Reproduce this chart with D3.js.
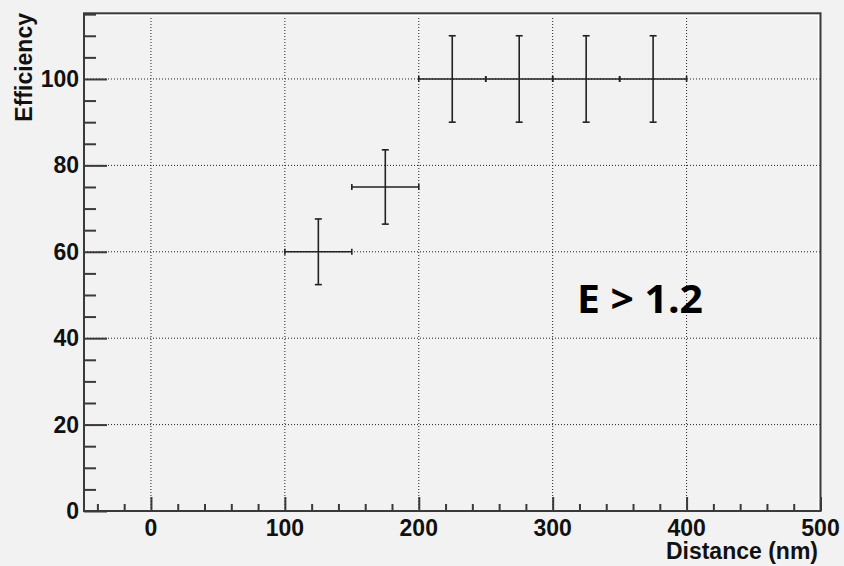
<!DOCTYPE html>
<html><head><meta charset="utf-8">
<script src="https://cdn.jsdelivr.net/npm/d3@7"></script>
<style>
html,body{margin:0;padding:0;background:#f2f2f2;}
svg{display:block;}
</style></head>
<body>
<script>
// Data
const xCenters = [125, 175, 225, 275, 325, 375];
const xErrors  = [25, 25, 25, 25, 25, 25];
const yValues  = [60, 75, 100, 100, 100, 100];
const yErrors  = [7.6, 8.6, 10, 10, 10, 10];
const xTicks = [0, 100, 200, 300, 400, 500];
const yTicks = [0, 20, 40, 60, 80, 100];
const xLabel = "Distance (nm)";
const yLabel = "Efficiency";
const annotation = "E > 1.2";

const W = 844, H = 566;
const svg = d3.select("body").append("svg").attr("width", W).attr("height", H);
svg.append("rect").attr("width", W).attr("height", H).attr("fill", "#f2f2f2");

const x = d3.scaleLinear().domain([-50, 500]).range([84, 820.5]);
const y = d3.scaleLinear().domain([0, 115.2]).range([511, 13.3]);
const axisCol = "#3a3a3a";
const font = "Liberation Sans, Arial, Helvetica, sans-serif";

// grid
const g = svg.append("g");
g.selectAll(".gx").data(xTicks.filter(d => d < 500)).enter().append("line")
  .attr("x1", d => x(d)).attr("x2", d => x(d)).attr("y1", y(0)).attr("y2", y(115.2))
  .attr("stroke", "#222").attr("stroke-width", 1).attr("stroke-dasharray", "1,2");
g.selectAll(".gy").data(yTicks.filter(d => d > 0)).enter().append("line")
  .attr("x1", x(-50)).attr("x2", x(500)).attr("y1", d => y(d)).attr("y2", d => y(d))
  .attr("stroke", "#222").attr("stroke-width", 1).attr("stroke-dasharray", "1,2");

// frame highlight
svg.append("line").attr("x1", x(-50)).attr("x2", x(500)-2).attr("y1", y(115.2)+2).attr("y2", y(115.2)+2)
  .attr("stroke", "#fff").attr("stroke-width", 1.5);
svg.append("line").attr("x1", x(500)-2).attr("x2", x(500)-2).attr("y1", y(115.2)+2).attr("y2", y(0))
  .attr("stroke", "#fff").attr("stroke-width", 1.5);
// frame
svg.append("rect").attr("x", x(-50)).attr("y", y(115.2)).attr("width", x(500)-x(-50)).attr("height", y(0)-y(115.2))
  .attr("fill", "none").attr("stroke", axisCol).attr("stroke-width", 2);

// x axis ticks
const xAxis = d3.axisBottom(x).tickValues(d3.range(-40, 501, 20)).tickSize(0).tickFormat("");
const xa = svg.append("g").attr("transform", `translate(0,${y(0)})`).call(xAxis);
xa.select(".domain").remove();
xa.selectAll(".tick line").remove();
xa.selectAll(".tick").append("line")
  .attr("y1", 0).attr("y2", d => xTicks.includes(d) ? -14 : -7)
  .attr("stroke", axisCol).attr("stroke-width", 2);
svg.selectAll(".xl").data(xTicks).enter().append("text")
  .attr("x", d => x(d)).attr("y", 535.5).attr("text-anchor", "middle")
  .attr("font-family", font).attr("font-weight", "bold")
  .attr("font-size", 23).attr("fill", "#111").text(d => d);

// y axis ticks
const yAxis = d3.axisLeft(y).tickValues(d3.range(0, 116, 5)).tickSize(0).tickFormat("");
const ya = svg.append("g").attr("transform", `translate(${x(-50)},0)`).call(yAxis);
ya.select(".domain").remove();
ya.selectAll(".tick line").remove();
ya.selectAll(".tick").append("line")
  .attr("x1", 0).attr("x2", d => yTicks.includes(d) ? 23 : 12)
  .attr("stroke", axisCol).attr("stroke-width", 2);
svg.selectAll(".yl").data(yTicks).enter().append("text")
  .attr("x", 79).attr("y", d => y(d) + 8).attr("text-anchor", "end")
  .attr("font-family", font).attr("font-weight", "bold")
  .attr("font-size", 23).attr("fill", "#111").text(d => d);

// axis titles
svg.append("text").attr("transform", `translate(32,13) rotate(-90)`).attr("text-anchor", "end")
  .attr("font-family", font).attr("font-weight", "bold")
  .attr("font-size", 23).attr("fill", "#111").text(yLabel);
svg.append("text").attr("x", 818).attr("y", 559).attr("text-anchor", "end")
  .attr("font-family", font).attr("font-weight", "bold")
  .attr("font-size", 23).attr("fill", "#111").text(xLabel);

// data points with error bars
const pts = xCenters.map((c, i) => ({x: c, ex: xErrors[i], y: yValues[i], ey: yErrors[i]}));
const pg = svg.append("g").attr("stroke", "#222").attr("stroke-width", 1.6);
const p = pg.selectAll(".pt").data(pts).enter().append("g");
p.append("line").attr("x1", d => x(d.x - d.ex)).attr("x2", d => x(d.x + d.ex))
  .attr("y1", d => y(d.y)).attr("y2", d => y(d.y));
p.append("line").attr("x1", d => x(d.x)).attr("x2", d => x(d.x))
  .attr("y1", d => y(d.y - d.ey)).attr("y2", d => y(d.y + d.ey));
// caps
p.append("line").attr("x1", d => x(d.x) - 3.5).attr("x2", d => x(d.x) + 3.5)
  .attr("y1", d => y(d.y + d.ey)).attr("y2", d => y(d.y + d.ey));
p.append("line").attr("x1", d => x(d.x) - 3.5).attr("x2", d => x(d.x) + 3.5)
  .attr("y1", d => y(d.y - d.ey)).attr("y2", d => y(d.y - d.ey));
p.append("line").attr("x1", d => x(d.x - d.ex)).attr("x2", d => x(d.x - d.ex))
  .attr("y1", d => y(d.y) - 3).attr("y2", d => y(d.y) + 3);
p.append("line").attr("x1", d => x(d.x + d.ex)).attr("x2", d => x(d.x + d.ex))
  .attr("y1", d => y(d.y) - 3).attr("y2", d => y(d.y) + 3);

// annotation
svg.append("text").attr("x", 577).attr("y", 313)
  .attr("font-family", "Open Sans, Lato, sans-serif").attr("font-weight", "bold")
  .attr("font-size", 40).attr("fill", "#000")
  .attr("textLength", 126).attr("lengthAdjust", "spacingAndGlyphs").text(annotation);
</script>
</body></html>
